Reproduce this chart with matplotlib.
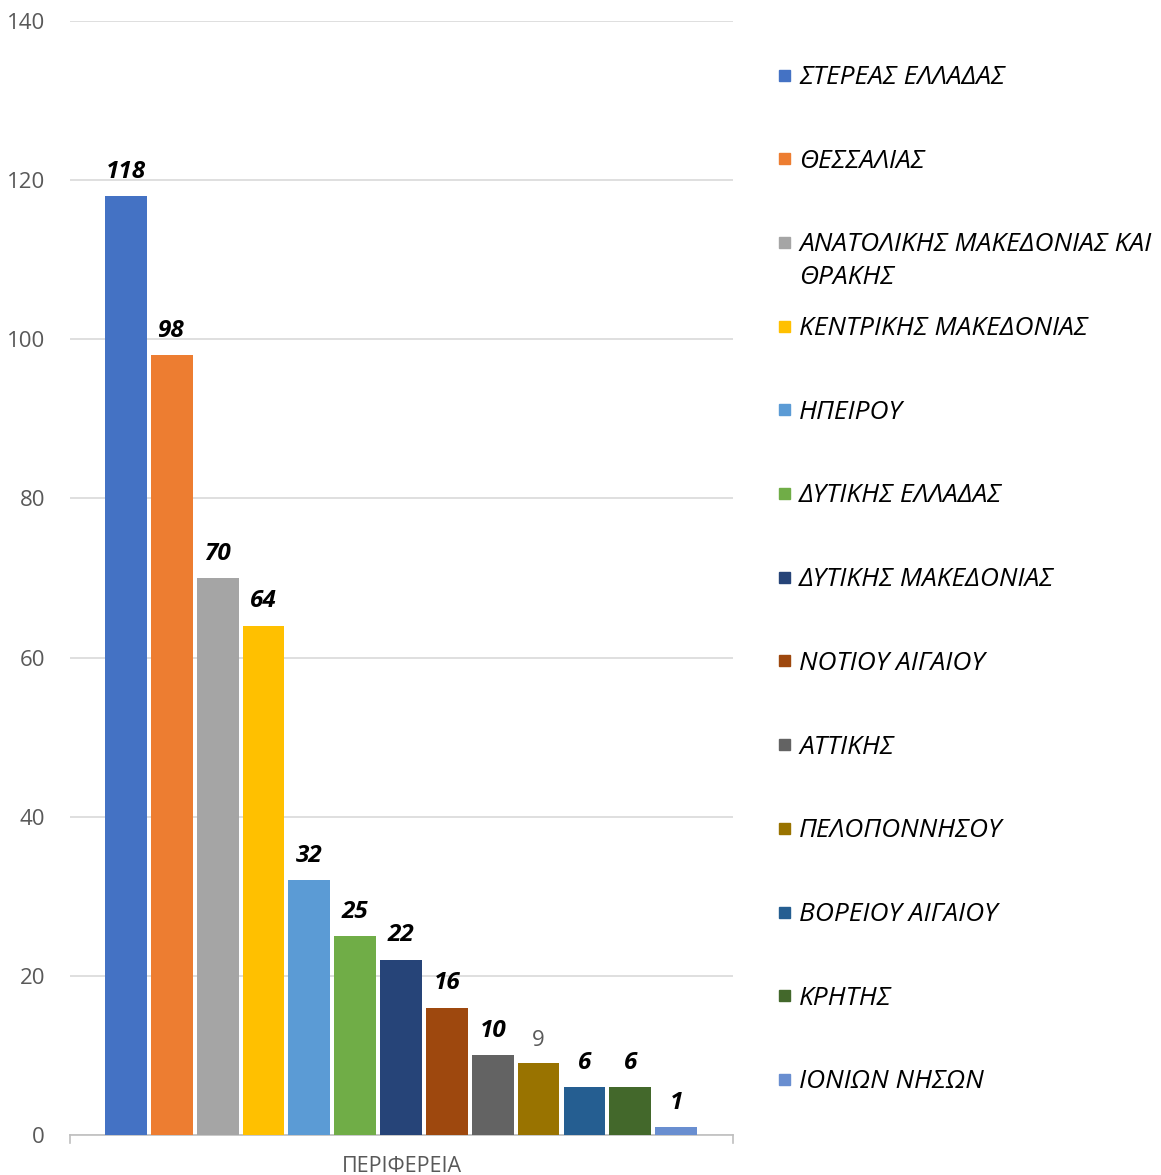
import matplotlib.pyplot as plt
from matplotlib.patches import Rectangle

plt.rcParams['font.family'] = ['Open Sans', 'DejaVu Sans']

regions = ['ΣΤΕΡΕΑΣ ΕΛΛΑΔΑΣ', 'ΘΕΣΣΑΛΙΑΣ', 'ΑΝΑΤΟΛΙΚΗΣ ΜΑΚΕΔΟΝΙΑΣ ΚΑΙ\nΘΡΑΚΗΣ',
           'ΚΕΝΤΡΙΚΗΣ ΜΑΚΕΔΟΝΙΑΣ', 'ΗΠΕΙΡΟΥ', 'ΔΥΤΙΚΗΣ ΕΛΛΑΔΑΣ',
           'ΔΥΤΙΚΗΣ ΜΑΚΕΔΟΝΙΑΣ', 'ΝΟΤΙΟΥ ΑΙΓΑΙΟΥ', 'ΑΤΤΙΚΗΣ', 'ΠΕΛΟΠΟΝΝΗΣΟΥ',
           'ΒΟΡΕΙΟΥ ΑΙΓΑΙΟΥ', 'ΚΡΗΤΗΣ', 'ΙΟΝΙΩΝ ΝΗΣΩΝ']
values = [118, 98, 70, 64, 32, 25, 22, 16, 10, 9, 6, 6, 1]
colors = ['#4472C4', '#ED7D31', '#A5A5A5', '#FFC000', '#5B9BD5', '#70AD47',
          '#264478', '#9E480E', '#636363', '#997300', '#255E91', '#43682B',
          '#698ED0']
y_ticks = [0, 20, 40, 60, 80, 100, 120, 140]
x_label = 'ΠΕΡΙΦΕΡΕΙΑ'

fig = plt.figure(figsize=(11.61, 11.75), dpi=100)
ax = fig.add_axes([70 / 1161, 1 - 1135 / 1175, 663 / 1161, 1114 / 1175])

xs = list(range(len(values)))
ax.bar(xs, values, width=0.91, color=colors, zorder=3)

# value labels: all bold italic except the "9"
for x, v in zip(xs, values):
    if v == 9:
        ax.annotate(str(v), (x, v), xytext=(0, 9), textcoords='offset points',
                    ha='center', va='bottom', fontsize=16, color='#595959')
    else:
        ax.annotate(str(v), (x, v), xytext=(0, 9), textcoords='offset points',
                    ha='center', va='bottom', fontsize=17.5, color='black',
                    fontweight='bold', fontstyle='italic')

ax.set_ylim(0, 140)
ax.set_xlim(-1.22, len(values) - 1 + 1.24)
ax.set_yticks(y_ticks)
ax.tick_params(axis='y', length=0, labelsize=16, labelcolor='#595959', pad=18)
ax.set_xticks([])
ax.grid(axis='y', color='#D9D9D9', linewidth=1.2, zorder=0)
for s in ['top', 'right', 'left']:
    ax.spines[s].set_visible(False)
ax.spines['bottom'].set_color('#BFBFBF')
ax.spines['bottom'].set_linewidth(1.2)
# small end ticks on the category axis
for xe in ax.get_xlim():
    ax.plot([xe, xe], [0, -1.0], color='#BFBFBF', lw=1.2, clip_on=False)
ax.set_xlabel(x_label, fontsize=15.5, color='#595959', labelpad=15)

# legend on the right
for i, (name, c) in enumerate(zip(regions, colors)):
    y = 1 - (75 + i * 83.7) / 1175
    fig.patches.append(Rectangle((779 / 1161, y - 5.5 / 1175), 11 / 1161, 11 / 1175,
                                 transform=fig.transFigure, color=c, figure=fig))
    fig.text(799 / 1161, y + 10 / 1175, name, fontsize=19, fontstyle='italic',
             va='top', ha='left', color='black', linespacing=1.42)

fig.savefig('out.png', dpi=100)
